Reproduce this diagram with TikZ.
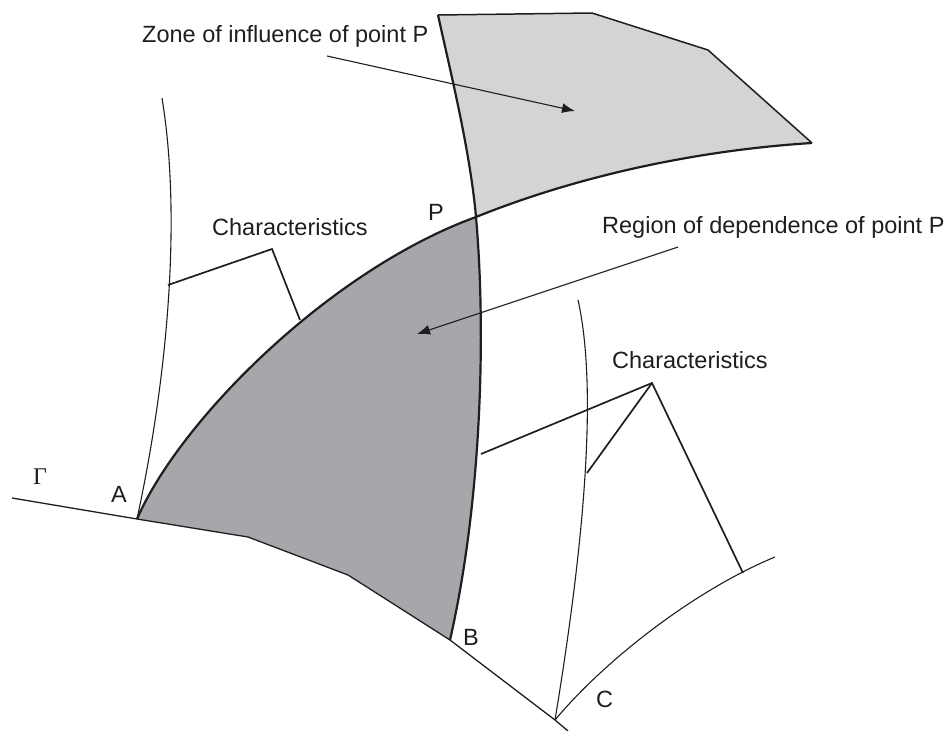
\documentclass[tikz,border=0pt]{standalone}
\usepackage{fontspec}
\setmainfont{Liberation Sans}
\newfontfamily\serifgreek{Liberation Serif}
\usetikzlibrary{arrows.meta}
\definecolor{zonegray}{RGB}{211,212,214}
\definecolor{depgray}{RGB}{166,167,171}
\definecolor{inkc}{RGB}{30,30,30}
\tikzset{
  lbl/.style={inner sep=0pt, anchor=base west, font=\fontsize{23.5}{28}\selectfont, text=inkc},
  boldline/.style={draw=inkc, line width=2.2pt},
  thinline/.style={draw=inkc, line width=1.1pt},
  gammaline/.style={draw=inkc, line width=1.3pt},
  charline/.style={draw=inkc, line width=1.7pt},
  pointer/.style={draw=inkc, line width=1.1pt, -{Latex[length=13pt,width=10pt]}}
}
\begin{document}
\begin{tikzpicture}[x=1pt,y=-1pt]
\useasboundingbox (0,0) rectangle (946,731);
% key points
\coordinate (A) at (137,519);
\coordinate (P) at (476,217);
\coordinate (B) at (450,640);
\coordinate (C) at (555,720);
\coordinate (T) at (438,15);
\coordinate (Z1) at (592,13);
\coordinate (Z2) at (708,50);
\coordinate (E) at (812,143);
\coordinate (G0) at (12,498);
\coordinate (G1) at (248,537);
\coordinate (G2) at (348,575);
\coordinate (Gend) at (568,731);
\coordinate (L0) at (162,98);
\coordinate (R0) at (578,300);
\coordinate (Cend) at (775,557);
% characteristic feet and apexes
\coordinate (la) at (272,249);
\coordinate (lf1) at (168,285);
\coordinate (lf2) at (300,320);
\coordinate (ra) at (652,383);
\coordinate (rf1) at (481,454);
\coordinate (rf2) at (587,473);
\coordinate (rf3) at (743,573);
% fills
\fill[zonegray] (P) .. controls (470,150) and (450,70) .. (T) -- (Z1) -- (Z2) -- (E)
   .. controls (700,150) and (580,175) .. (P) -- cycle;
\fill[depgray] (A) .. controls (180,420) and (330,270) .. (P)
   .. controls (486,330) and (482,500) .. (B) -- (G2) -- (G1) -- cycle;
% boundary Gamma
\draw[gammaline] (G0) -- (A) -- (G1) -- (G2) -- (B) -- (C) -- (Gend);
% zone outline
\draw[charline, line width=1.5pt] (T) -- (Z1) -- (Z2) -- (E);
% thin characteristic curves
\draw[thinline] (A) .. controls (167,380) and (182,220) .. (L0);
\draw[thinline] (C) .. controls (588,520) and (596,380) .. (R0);
\draw[thinline] (C) .. controls (605,660) and (695,590) .. (Cend);
% characteristic brackets
\draw[charline] (lf1) -- (la) -- (lf2);
\draw[charline] (rf1) -- (ra) -- (rf3);
\draw[charline] (ra) -- (rf2);
% bold curves
\draw[boldline] (A) .. controls (180,420) and (330,270) .. (P);
\draw[boldline] (P) .. controls (580,175) and (700,150) .. (E);
\draw[boldline] (T) .. controls (450,70) and (470,150) .. (P)
   .. controls (486,330) and (482,500) .. (B);
% labels
\node[lbl] (zoneT) at (142,42.5) {Zone of influence of point P};
\node[lbl] (charL) at (212,235) {Characteristics};
\node[lbl] (Plbl) at (428,220) {P};
\node[lbl] (regT) at (602,233) {Region of dependence of point P};
\node[lbl] (charR) at (612,368) {Characteristics};
\node[lbl, font=\serifgreek\fontsize{24}{28}\selectfont] (Glbl) at (33,484) {Γ};
\node[lbl] (Albl) at (111,502) {A};
\node[lbl] (Blbl) at (463,645) {B};
\node[lbl] (Clbl) at (596,707) {C};
% pointers
\coordinate (zs) at (327,56);
\coordinate (zt) at (575,111);
\coordinate (rs) at (678,247);
\coordinate (rt) at (417,334);
\draw[pointer] (zs) -- (zt);
\draw[pointer] (rs) -- (rt);
\end{tikzpicture}
\end{document}
